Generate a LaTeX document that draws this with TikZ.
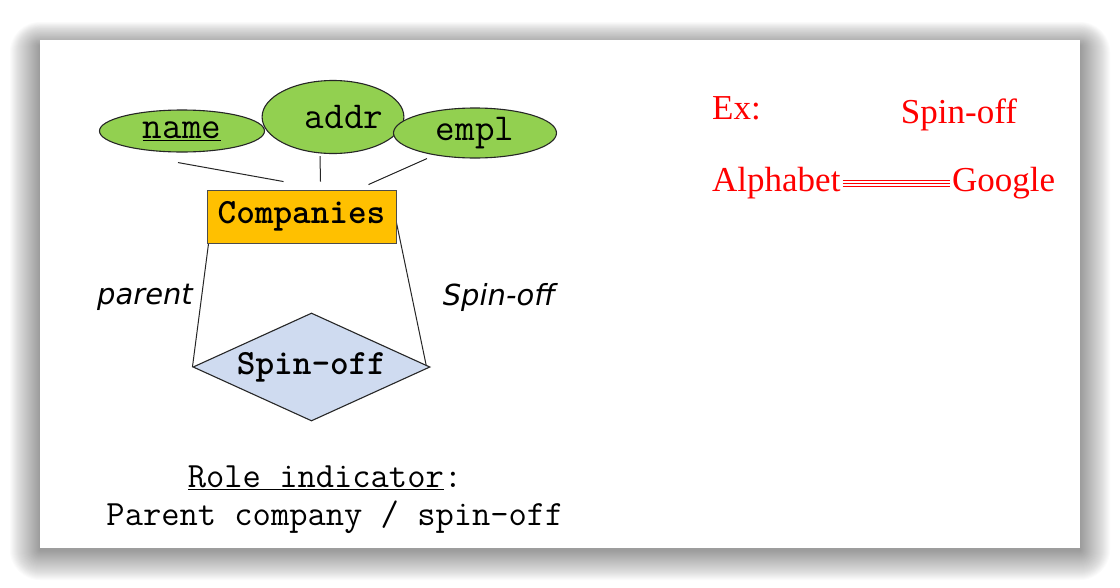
\documentclass[tikz,border=0pt]{standalone}
\usepackage{fontspec}
\setmainfont{Liberation Serif}
\newfontfamily\rolefont{DejaVu Sans}
\usetikzlibrary{shapes.geometric,backgrounds,positioning}

\newcommand\erfont{\fontsize{35.5}{40}\selectfont}
\newcommand\attrfont{\fontsize{38}{42}\selectfont}

\begin{document}
\begin{tikzpicture}[x=1pt,y=-1pt,every node/.style={inner sep=2pt}]
        \definecolor{attrgreen}{RGB}{146,208,80}
        \definecolor{entorange}{RGB}{255,192,0}
        \definecolor{relblue}{RGB}{207,219,240}
        \tikzset{
            attr/.style={ellipse, draw=black!85, line width=1.1pt, fill=attrgreen, inner sep=0pt, font=\ttfamily\attrfont},
            entity/.style={rectangle, draw=black!70, line width=0.9pt, fill=entorange, minimum width=189pt, minimum height=53pt, font=\ttfamily\bfseries\erfont},
            rel/.style={diamond, draw=black!85, line width=1.1pt, fill=relblue, inner sep=0pt, aspect=2.2, font=\ttfamily\bfseries\erfont},
            role/.style={font=\rolefont\itshape\fontsize{29}{34}\selectfont},
            example/.style={text=red, font=\fontsize{35}{40}\selectfont},
            link/.style={black!85, line width=1pt}
        }
        \useasboundingbox (0,0) rectangle (1120,587);

        % Attributes on top
        \node[attr, minimum width=165pt, minimum height=42pt] (name) at (182,131) {\underline{name}};
        \node[attr, minimum width=127pt, minimum height=73pt] (addr) at (333,117) {\hspace*{22pt}addr};
        \node[attr, minimum width=163pt, minimum height=50pt] (empl) at (475,133) {empl};

        % Entity set
        \node[entity] (comp) at (301.5,216.5) {Companies};

        % Relationship
        \node[rel, minimum width=237pt, minimum height=108pt] (spin) at (311.5,367) {Spin-off};

        % Role labels
        \node[role] (parent) at (145,297) {parent};
        \node[role] (child) at (499,297) {Spin-off};

        % Role indicator note
        \node[font=\ttfamily\erfont] (note) at (325,478) {\underline{Role indicator}:};
        \node[font=\ttfamily\erfont] (noteb) at (335,517) {Parent company / spin-off};

        % Example in red
        \node[example, anchor=west] (ex) at (710,108) {Ex:};
        \node[example] (exrel) at (959,115) {Spin-off};
        \node[example, anchor=west] (alpha) at (710,183) {Alphabet};
        \node[example, anchor=west] (google) at (950,183) {Google};

        \begin{scope}[on background layer]
            % slide with its drop shadow
            \foreach \r in {1,...,30}
                \fill[black, opacity=0.017, rounded corners=\r pt] (40-\r,46-0.8*\r) rectangle (1080+\r,550+\r);
            \fill[white] (40,40) rectangle (1080,548);

            % connectors
            \draw[link] ([xshift=-4pt,yshift=-10pt]name.south) -- ([xshift=-18pt,yshift=8pt]comp.north);
            \draw[link] ([xshift=-13pt,yshift=-2pt]addr.south) -- ([xshift=19pt,yshift=8pt]comp.north);
            \draw[link] ([xshift=-48pt,yshift=0pt]empl.south) -- ([xshift=67pt,yshift=5pt]comp.north);
            \draw[link] ([xshift=2pt]comp.south west) -- (spin.west);
            \draw[link] ([yshift=-6pt]comp.east) -- ([xshift=-4pt]spin.east);

            % triple line of the example
            \foreach \d in {-3,0,3}
                \draw[red, line width=0.7pt] ([yshift=\d pt]alpha.east) -- ([yshift=\d pt]google.west);
        \end{scope}
\end{tikzpicture}
\end{document}
